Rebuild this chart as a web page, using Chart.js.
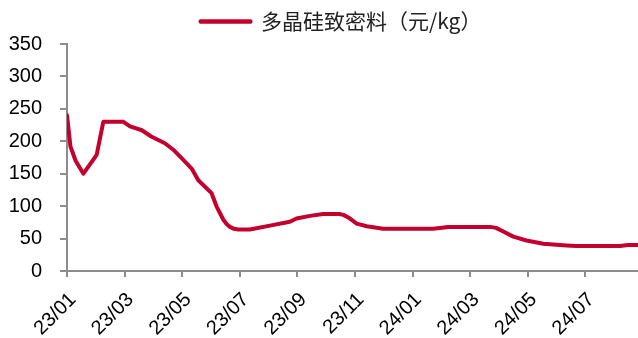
<!DOCTYPE html>
<html>
<head>
<meta charset="utf-8">
<script src="https://cdn.jsdelivr.net/npm/chart.js@4/dist/chart.umd.min.js"></script>
<style>
html,body{margin:0;padding:0;background:#fff;}
#wrap{width:638px;height:338px;}
</style>
</head>
<body>
<div id="wrap"><canvas id="c" width="638" height="338"></canvas></div>
<script>
// Time in months since 2023-01 (start of month)
const months = [0, 0.12, 0.3, 0.57, 1.03, 1.26, 1.96, 2.19, 2.6, 2.94, 3.4, 3.69, 3.98, 4.33, 4.56, 5.02, 5.2, 5.43, 5.55, 5.66, 5.8, 5.95, 6.35, 7.05, 7.74, 7.97, 8.44, 8.9, 9.45, 9.6, 9.77, 10.06, 10.41, 10.98, 12.72, 13.24, 14.7, 14.9, 15.1, 15.5, 15.96, 16.54, 17.35, 17.7, 19.2, 19.49, 19.83];
// 多晶硅致密料 price (元/kg)
const prices = [240, 192, 170, 150, 179, 230, 230, 223, 217, 207, 197, 187, 174, 158, 140, 120, 99, 79, 72, 68, 65, 64, 64, 70, 76, 81, 85, 88, 88, 86.5, 82.6, 73, 69, 65, 65, 68, 68, 66.5, 62, 53, 47, 42, 39.5, 38.5, 38.5, 40, 40];
const tickLabels = ['23/01','23/03','23/05','23/07','23/09','23/11','24/01','24/03','24/05','24/07'];
const seriesName = '多晶硅致密料（元/kg）';

const points = months.map((m, i) => ({x: m, y: prices[i]}));
const red = '#C4002F';
const axisGray = '#8c8c8c';

const legendShift = {
  id: 'legendShift',
  afterLayout(chart) {
    if (chart.legend) {
      chart.legend.left += 22; chart.legend.right += 22;
      chart.legend.top -= 2; chart.legend.bottom -= 2;
    }
  }
};

new Chart(document.getElementById('c'), {
  type: 'line',
  data: {
    datasets: [{
      label: seriesName,
      data: points,
      borderColor: red,
      backgroundColor: red,
      borderWidth: 4,
      pointRadius: 0,
      tension: 0,
      borderJoinStyle: 'round',
      borderCapStyle: 'round'
    }]
  },
  options: {
    responsive: false,
    animation: false,
    layout: { padding: { top: 2 } },
    plugins: {
      legend: {
        position: 'top',
        labels: {
          boxWidth: 50,
          boxHeight: 0.5,
          color: '#222',
          padding: 11,
          font: { family: '"Noto Sans CJK SC", "Liberation Sans", sans-serif', size: 21 }
        }
      },
      tooltip: { enabled: false }
    },
    scales: {
      x: {
        type: 'linear',
        min: 0,
        max: 19.83,
        grid: { display: true, drawOnChartArea: false, drawTicks: true, tickLength: 6, color: axisGray, lineWidth: 2 },
        border: { display: true, color: axisGray, width: 2 },
        ticks: {
          stepSize: 2,
          includeBounds: false,
          autoSkip: false,
          minRotation: 45,
          maxRotation: 45,
          padding: 11,
          labelOffset: 6,
          color: '#000',
          font: { family: '"Liberation Sans", Arial, sans-serif', size: 20 },
          callback: (v) => (v % 2 === 0 ? tickLabels[v / 2] : null)
        },
        afterFit: (s) => { s.height = 67; }
      },
      y: {
        min: 0,
        max: 350,
        grid: { display: true, drawOnChartArea: false, drawTicks: true, tickLength: 7, color: axisGray, lineWidth: 2 },
        border: { display: true, color: axisGray, width: 2 },
        ticks: {
          stepSize: 50,
          padding: 18,
          color: '#000',
          font: { family: '"Liberation Sans", Arial, sans-serif', size: 20 }
        },
        afterFit: (s) => { s.width = 67; }
      }
    }
  },
  plugins: [legendShift]
});
</script>
</body>
</html>
